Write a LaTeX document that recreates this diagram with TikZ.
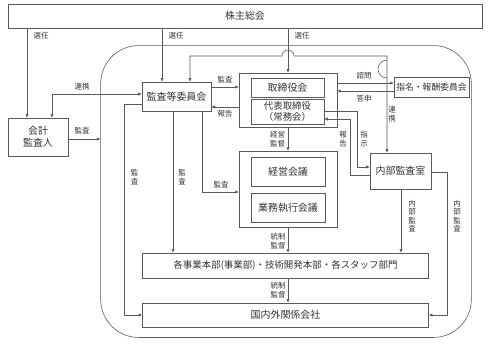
\documentclass[tikz,border=0pt]{standalone}
\usepackage{fontspec}
\newfontfamily\jpfont{Noto Sans CJK JP}
\usetikzlibrary{arrows.meta,positioning,calc}
\tikzset{
  box/.style={draw=black!65, line width=0.6pt, inner sep=0pt, align=center,
    font=\jpfont\fontsize{10}{12}\selectfont, text=black!80},
  lbl/.style={inner sep=0pt, align=center, font=\jpfont\fontsize{7.5}{8.5}\selectfont, text=black!80},
  con/.style={draw=black!65, line width=0.55pt},
  arr/.style={con, -{Latex[length=3.6pt,width=3.2pt]}},
  dbl/.style={con, {Latex[length=3.6pt,width=3.2pt]}-{Latex[length=3.6pt,width=3.2pt]}},
}
\begin{document}
\begin{tikzpicture}[x=1bp, y=-1bp]
    \useasboundingbox (0,0) rectangle (488,345);
    % boxes
    \node[box, minimum width=476, minimum height=24] (soukai) at (245,16) {株主総会};
    \node[box, minimum width=372, minimum height=293, rounded corners=38bp] (waku) at (286,191.5) {};
    \node[box, minimum width=60, minimum height=38] (kaikei) at (38,137) {会計\\監査人};
    \node[box, minimum width=69, minimum height=29] (iinkai) at (176.5,96.5) {監査等委員会};
    \node[box, minimum width=98, minimum height=54] (torigrp) at (288,100) {};
    \node[box, minimum width=73, minimum height=19] (torikai) at (287.5,87.5) {取締役会};
    \node[box, minimum width=73, minimum height=25, font=\jpfont\fontsize{9.5}{10.5}\selectfont] (daihyo) at (287.5,111.5) {代表取締役\\（常務会）};
    \node[box, minimum width=75, minimum height=20, font=\jpfont\fontsize{8.8}{10}\selectfont] (shimei) at (431.5,87) {指名・報酬委員会};
    \node[box, minimum width=61, minimum height=36] (naibu) at (400.5,171) {内部監査室};
    \node[box, minimum width=98, minimum height=76] (keigrp) at (288,189) {};
    \node[box, minimum width=74, minimum height=29] (keiei) at (288,171.5) {経営会議};
    \node[box, minimum width=74, minimum height=29] (gyomu) at (288,207.5) {業務執行会議};
    \node[box, minimum width=287, minimum height=25, font=\jpfont\fontsize{9.5}{10.5}\selectfont] (jigyo) at (285.5,265.5) {各事業本部(事業部)・技術開発本部・各スタッフ部門};
    \node[box, minimum width=287, minimum height=24] (kanren) at (285.5,315) {国内外関係会社};
    % connectors
    \draw[arr] (soukai.south -| 27,0) -- (kaikei.north -| 27,0);
    \draw[arr] (soukai.south -| 162,0) -- (iinkai.north -| 162,0);
    \draw[arr] (soukai.south -| torigrp.north) -- (torigrp.north);
    \draw[dbl] (kaikei.north -| 52,0) |- (iinkai.west |- 0,94);
    \draw[arr] (kaikei.east |- 0,139) -- (waku.west |- 0,139);
    \draw[dbl] (iinkai.north -| 190,0) |- (282,56) arc (180:360:6) -- (387,56)
      -- (387,78) arc (90:270:9) -- (naibu.north -| 387,0);
    \draw[arr] (iinkai.east |- 0,87) -- (torigrp.west |- 0,87);
    \draw[arr] (torigrp.west |- 0,107) -- (iinkai.east |- 0,107);
    \draw[arr] (torigrp.east |- 0,83) -- (shimei.west |- 0,83);
    \draw[arr] (shimei.west |- 0,91) -- (torigrp.east |- 0,91);
    \draw[arr] (daihyo.east |- 0,111) -| (357,167) -- (naibu.west |- 0,167);
    \draw[arr] (naibu.west |- 0,175) -| (350,119) -- (daihyo.east |- 0,119);
    \draw[arr] (torigrp.south) -- (keigrp.north);
    \draw[arr] (iinkai.south -| 202,0) |- (keigrp.west |- 0,192);
    \draw[arr] (iinkai.south -| 173,0) -- (jigyo.north -| 173,0);
    \draw[arr] (iinkai.west |- 0,104) -| (124,315) -- (kanren.west |- 0,315);
    \draw[arr] (keigrp.south) -- (jigyo.north -| keigrp.south);
    \draw[arr] (jigyo.south -| 288,0) -- (kanren.north -| 288,0);
    \draw[arr] (naibu.south -| 401,0) -- (jigyo.north -| 401,0);
    \draw[arr] (naibu.east |- 0,172) -| (447,315) -- (kanren.east |- 0,315);
    % labels
    \foreach \n/\x in {s1/41, s2/176, s3/302} {
      \node[lbl] (\n) at (\x,36) {選任};
    }
    \node[lbl] (renkei1) at (82,87) {連携};
    \node[lbl] (kansa1) at (82,131) {監査};
    \node[lbl] (kansa2) at (225,80) {監査};
    \node[lbl] (houkoku1) at (225,114) {報告};
    \node[lbl] (shimon) at (364,76) {諮問};
    \node[lbl] (toushin) at (364,99) {答申};
    \node[lbl] (renkei2) at (392,114) {連\\携};
    \node[lbl] (houkoku2) at (343,139) {報\\告};
    \node[lbl] (shiji) at (364,139) {指\\示};
    \node[lbl] (keikan) at (277.5,139) {経営\\監督};
    \node[lbl] (kansa3) at (221,185) {監査};
    \node[lbl] (kansa4) at (134.5,177) {監\\査};
    \node[lbl] (kansa5) at (182,177) {監\\査};
    \node[lbl] (naikan1) at (412,216) {内\\部\\監\\査};
    \node[lbl] (naikan2) at (457,216) {内\\部\\監\\査};
    \node[lbl] (tousei1) at (278,241) {統制\\監督};
    \node[lbl] (tousei2) at (278,290) {統制\\監督};
\end{tikzpicture}
\end{document}
